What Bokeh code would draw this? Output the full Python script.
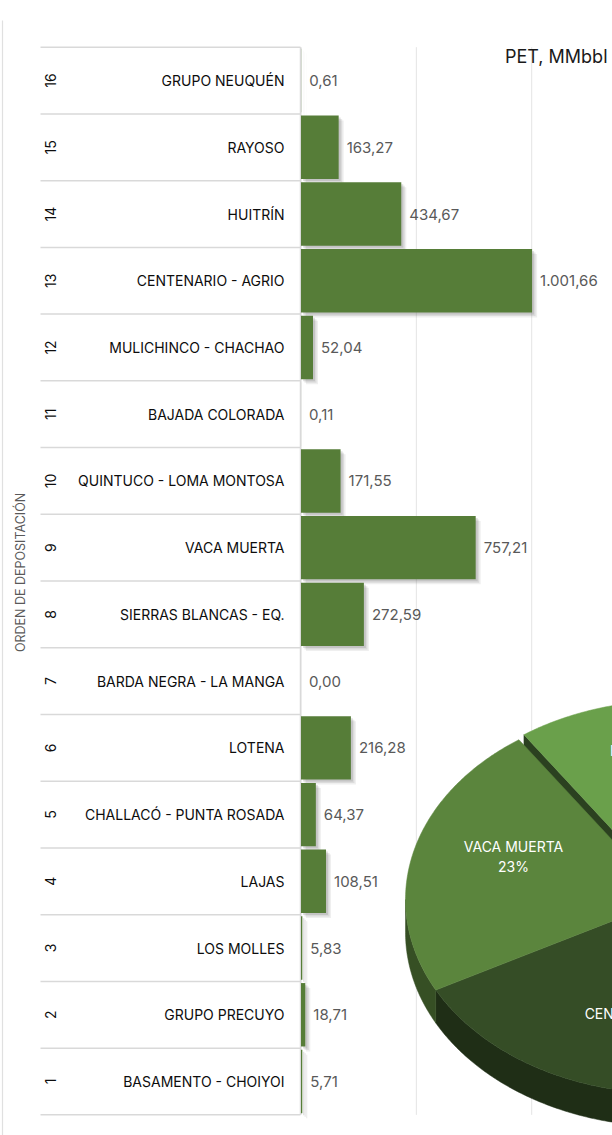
import math
import numpy as np
from bokeh.plotting import figure
from bokeh.models import ColumnDataSource, Range1d
from bokeh.core.properties import value
from bokeh.embed import file_html
from bokeh.resources import INLINE

# ---------------- data ----------------
orden = [16, 15, 14, 13, 12, 11, 10, 9, 8, 7, 6, 5, 4, 3, 2, 1]
formaciones = [
    "GRUPO NEUQUÉN", "RAYOSO", "HUITRÍN", "CENTENARIO - AGRIO",
    "MULICHINCO - CHACHAO", "BAJADA COLORADA", "QUINTUCO - LOMA MONTOSA",
    "VACA MUERTA", "SIERRAS BLANCAS - EQ.", "BARDA NEGRA - LA MANGA",
    "LOTENA", "CHALLACÓ - PUNTA ROSADA", "LAJAS", "LOS MOLLES",
    "GRUPO PRECUYO", "BASAMENTO - CHOIYOI",
]
pet = [0.61, 163.27, 434.67, 1001.66, 52.04, 0.11, 171.55, 757.21,
       272.59, 0.00, 216.28, 64.37, 108.51, 5.83, 18.71, 5.71]
grid_values = [0, 500, 1000, 1500]
titulo = "PET, MMbbl"
eje_y = "ORDEN DE DEPOSITACIÓN"

# ---------------- layout (page pixels -> data) ----------------
W, H = 612, 1135
X0_PAGE = 300.5          # page x of value 0
PX_PER_UNIT = 0.2307     # pixels per MMbbl
ROW1_PAGE = 1081.0       # page y of row "1" center
ROW_PX = 66.73           # pixels per row

def dx(px):
    return (px - X0_PAGE) / PX_PER_UNIT

def dy(py):
    return 1 + (ROW1_PAGE - py) / ROW_PX

def wx(px):  # pixel width -> data units
    return px / PX_PER_UNIT

def wy(px):
    return px / ROW_PX

FONT = value("Inter")
BAR_COLOR = "#567d38"

p = figure(width=W, height=H,
           x_range=Range1d(dx(0), dx(W)), y_range=Range1d(dy(H), dy(0)),
           output_backend="svg", toolbar_location=None,
           x_axis_location=None, y_axis_location=None,
           min_border=0, outline_line_color=None)
p.xgrid.visible = False
p.ygrid.visible = False
p.background_fill_color = "white"
p.border_fill_color = "white"

top_b = max(orden) + 0.5
bot_b = min(orden) - 0.5

# left faint page border
p.segment(x0=[dx(2)], x1=[dx(2)], y0=[dy(20)], y1=[dy(H)],
          line_color="#e0e0e0", line_width=1.2)

# vertical gridlines
p.segment(x0=grid_values, x1=grid_values, y0=[top_b] * len(grid_values),
          y1=[bot_b] * len(grid_values), line_color="#e4e4e4", line_width=1)

# table row separators
bounds = [o + 0.5 for o in orden] + [bot_b]
p.segment(x0=[dx(40)] * len(bounds), x1=[dx(300)] * len(bounds),
          y0=bounds, y1=bounds, line_color="#d9d9d9", line_width=1.5)
p.segment(x0=[dx(300)], x1=[dx(300)], y0=[top_b], y1=[bot_b],
          line_color="#d9d9d9", line_width=1.5)

# bar shadows
for k, alpha in [(5.0, 0.10), (3.5, 0.14), (2.0, 0.18)]:
    p.hbar(y=[o - wy(k) for o in orden], left=[wx(k)] * len(pet),
           right=[v + wx(k) for v in pet], height=0.95,
           fill_color="#606060", fill_alpha=alpha, line_color=None)

src = ColumnDataSource(dict(
    y=orden, v=pet, name=formaciones,
    num=[str(o) for o in orden],
    lab=[f"{v:,.2f}".replace(",", "X").replace(".", ",").replace("X", ".") for v in pet],
    labx=[v + wx(8) for v in pet],
))
p.hbar(y="y", left=0, right="v", height=0.95, source=src,
       fill_color=BAR_COLOR, line_color=None)

# value labels
p.text(x="labx", y="y", text="lab", source=src, text_font=FONT,
       text_font_size="15px", text_color="#595959",
       text_align="left", text_baseline="middle")

# formation names
p.text(x=dx(284), y="y", text="name", source=src, text_font=FONT,
       text_font_size="14px", text_color="#0d0d0d",
       text_align="right", text_baseline="middle")

# order numbers (rotated)
p.text(x=dx(50), y="y", text="num", source=src, text_font=FONT,
       text_font_size="14px", text_color="#0d0d0d", angle=math.pi / 2,
       text_align="center", text_baseline="middle")

# y axis title
p.text(x=[dx(20)], y=[dy(572)], text=[eje_y], text_font=FONT,
       text_font_size="12.5px", text_color="#595959", angle=math.pi / 2,
       text_align="center", text_baseline="middle")

# chart title
p.text(x=[dx(607)], y=[dy(56)], text=[titulo], text_font=FONT,
       text_font_size="18px", text_color="#1a1a1a",
       text_align="right", text_baseline="middle")

# ---------------- 3D pie (partly out of view) ----------------
CX, CY, A, B, DEPTH = 667.0, 899.0, 262.0, 194.0, 33.0
START = 318.0
EXPLODE = "HUITRÍN"
EXP_OFF = (5.0, -5.0)
pie_palette = ["#354d26", "#5b853d", "#6aa04b", "#4b7031", "#7fb35c",
               "#3f5f2a", "#8fc06e", "#527a36", "#a2cc85", "#2f4520",
               "#6d9a4e", "#b4d89b", "#44662d", "#93b97a", "#5f8c42"]

def darker(hexc, f):
    r, g, b = int(hexc[1:3], 16), int(hexc[3:5], 16), int(hexc[5:7], 16)
    return "#%02x%02x%02x" % (int(r * f), int(g * f), int(b * f))

def rim(ts, offx=0.0, offy=0.0, down=0.0):
    ts = np.radians(ts)
    xs = CX + A * np.cos(ts) + offx
    ys = CY - B * np.sin(ts) + offy + down
    return [dx(x) for x in xs], [dy(y) for y in ys]

total = sum(pet)
idx = sorted([i for i in range(len(pet)) if pet[i] > 0], key=lambda i: -pet[i])
tops, sides, walls = [], [], []
cur = START
for n, i in enumerate(idx):
    span = pet[i] / total * 360.0
    t0, t1 = cur, cur - span
    cur = t1
    col = pie_palette[n % len(pie_palette)]
    off = EXP_OFF if formaciones[i] == EXPLODE else (0.0, 0.0)
    ts = np.linspace(t0, t1, max(4, int(span * 2)))
    rx, ry = rim(ts, *off)
    tops.append(([dx(CX + off[0])] + rx, [dy(CY + off[1])] + ry, col))
    for lo, hi in [(max(t1, 180.0), min(t0, 360.0)), (max(t1, -180.0), min(t0, 0.0))]:
        if hi > lo:
            tt = np.linspace(lo, hi, max(4, int((hi - lo) * 2)))
            ax_, ay_ = rim(tt, *off)
            bx_, by_ = rim(tt[::-1], off[0], off[1], DEPTH)
            sides.append((ax_ + bx_, ay_ + by_, darker(col, 0.6)))
    if formaciones[i] == EXPLODE:
        ex, ey = rim(np.array([t0]), *off)
        ex2, ey2 = rim(np.array([t0]), off[0], off[1], DEPTH)
        walls.append(([dx(CX + off[0]), ex[0], ex2[0], dx(CX + off[0])],
                      [dy(CY + off[1]), ey[0], ey2[0], dy(CY + off[1] + DEPTH)],
                      "#2b4120"))

for xs, ys, c in sides + walls:
    p.patch(xs, ys, fill_color=c, line_color=c, line_width=0.5)
for xs, ys, c in tops:
    p.patch(xs, ys, fill_color=c, line_color=c, line_width=0.5)

# pie labels
def pct(name):
    return f"{round(pet[formaciones.index(name)] / total * 100)}%"

pie_labels = [("VACA MUERTA", 513, 846), ("CENTENARIO - AGRIO", 658, 1013),
              ("HUITRÍN", 638, 750)]
for name, lx, ly in pie_labels:
    p.text(x=[dx(lx), dx(lx)], y=[dy(ly), dy(ly + 20)], text=[name, pct(name)],
           text_font=FONT, text_font_size="14px", text_color="white",
           text_align="center", text_baseline="middle")

open("out.html", "w").write(file_html(p, INLINE))
